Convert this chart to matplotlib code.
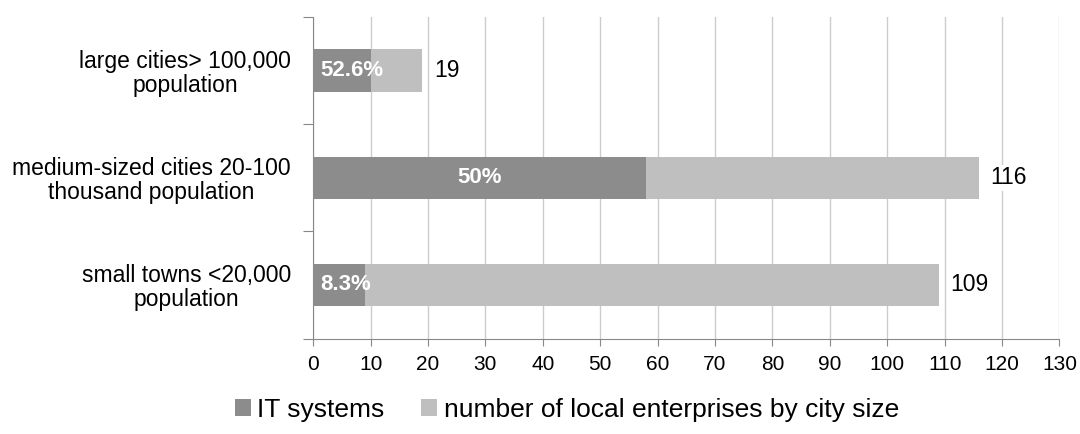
import numpy as np
import matplotlib.pyplot as plt

plt.rcParams['font.family'] = ['Liberation Sans', 'DejaVu Sans']

## Data (top to bottom)
categories = ["large cities> 100,000\npopulation",
              "medium-sized cities 20-100\nthousand population",
              "small towns <20,000\npopulation"]
it_systems = np.array([10, 58, 9])
totals = np.array([19, 116, 109])
pct_labels = ["52.6%", "50%", "8.3%"]

dark = "#8c8c8c"
light = "#bfbfbf"

fig = plt.figure(figsize=(10.8, 4.34), dpi=100)
ax = fig.add_axes([0.29, 0.22, 0.691, 0.74])

y = np.arange(len(categories))[::-1]
ax.barh(y, it_systems, height=0.4, color=dark, label="IT systems", zorder=3)
ax.barh(y, totals - it_systems, left=it_systems, height=0.4, color=light,
        label="number of local enterprises by city size", zorder=3)

## labels inside and at end of bars
for yi, it, tot, pl in zip(y, it_systems, totals, pct_labels):
    if it > 20:
        ax.text(it / 2, yi, pl, ha="center", va="center", color="white",
                fontsize=16, fontweight="bold", zorder=4)
    else:
        ax.text(1.2, yi, pl, ha="left", va="center", color="white",
                fontsize=16, fontweight="bold", zorder=4)
    ax.text(tot + 2.0, yi, str(tot), ha="left", va="center", fontsize=16.5,
            zorder=4, bbox=dict(facecolor="white", edgecolor="none", pad=1))

ax.set_xlim(0, 130)
ax.set_ylim(-0.5, 2.5)
ax.set_xticks(np.arange(0, 131, 10))
ax.tick_params(axis="x", labelsize=15, length=5, color="#888888", pad=7)

## category ticks sit on the boundaries
ax.set_yticks([-0.5, 0.5, 1.5, 2.5])
ax.set_yticklabels([])
ax.set_yticks(y, minor=True)
ax.set_yticklabels(categories, minor=True, fontsize=16.5, ha="right",
                   multialignment="center", linespacing=1.05)
ax.tick_params(axis="y", which="major", length=7, color="#888888")
ax.tick_params(axis="y", which="minor", length=0, pad=16)

ax.grid(axis="x", color="#cccccc", linewidth=1, zorder=0)
for s in ["top", "right"]:
    ax.spines[s].set_visible(False)
for s in ["left", "bottom"]:
    ax.spines[s].set_color("#888888")

fig.legend(*ax.get_legend_handles_labels(), loc="center",
           bbox_to_anchor=(567 / 1080, 1 - 410 / 434), ncol=2, frameon=False,
           fontsize=19, handlelength=0.6, handleheight=0.6, handletextpad=0.25,
           columnspacing=1.4)

plt.savefig("out.png", dpi=100)
